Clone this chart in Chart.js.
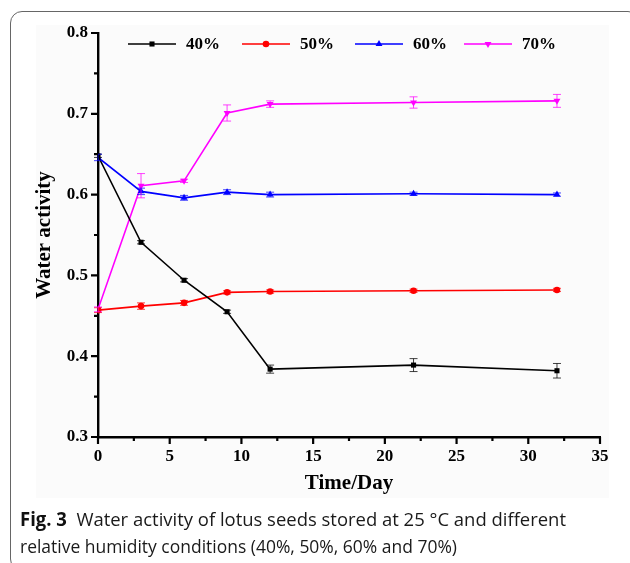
<!DOCTYPE html>
<html>
<head>
<meta charset="utf-8">
<script src="https://cdn.jsdelivr.net/npm/chart.js@4/dist/chart.umd.min.js"></script>
<style>
  html, body { margin:0; padding:0; background:#fff; width:630px; height:563px; overflow:hidden; }
  #wrap { position:relative; width:630px; height:563px; }
  #frame { position:absolute; left:10px; top:11px; width:630px; height:560px; border:1.3px solid #666; border-radius:12px; box-sizing:border-box; }
  #imgbg { position:absolute; left:36px; top:25px; width:573px; height:473px; background:#fbfbfb; }
  #c { position:absolute; left:0; top:0; }
  .cap { position:absolute; left:20px; font-family:'Open Sans','Noto Sans',sans-serif; font-size:19px; color:#1a1a1a; white-space:nowrap; transform-origin:0 0; line-height:1; }
  .cap b { font-weight:700; color:#111; }
</style>
</head>
<body>
<div id="wrap">
  <div id="frame"></div>
  <div id="imgbg"></div>
  <canvas id="c" width="630" height="563"></canvas>
  <div class="cap" id="cap1" style="top:510px"><b>Fig. 3</b>&nbsp; Water activity of lotus seeds stored at 25 °C and different</div>
  <div class="cap" id="cap2" style="top:537px">relative humidity conditions (40%, 50%, 60% and 70%)</div>
</div>
<script>
// ---- data ----
const days = [0, 3, 6, 9, 12, 22, 32];
const seriesLabels = ['40%', '50%', '60%', '70%'];
const rh40 = [0.648, 0.541, 0.494, 0.455, 0.384, 0.389, 0.382];
const rh50 = [0.457, 0.462, 0.466, 0.479, 0.480, 0.481, 0.482];
const rh60 = [0.646, 0.604, 0.596, 0.603, 0.600, 0.601, 0.600];
const rh70 = [0.458, 0.611, 0.617, 0.701, 0.712, 0.714, 0.716];
const err40 = [0.002, 0.002, 0.002, 0.002, 0.005, 0.008, 0.009];
const err50 = [0.003, 0.004, 0.003, 0.002, 0.002, 0.002, 0.002];
const err60 = [0.004, 0.004, 0.003, 0.003, 0.003, 0.002, 0.002];
const err70 = [0.003, 0.015, 0.002, 0.010, 0.004, 0.007, 0.008];
const xTicks = [0, 5, 10, 15, 20, 25, 30, 35];
const yTicks = [0.3, 0.4, 0.5, 0.6, 0.7, 0.8];

const colors = ['#000000', '#ff0000', '#0000ff', '#ff00ff'];
const shapes = ['rect', 'circle', 'triangle', 'triangle'];
const rotations = [0, 0, 0, 180];
const radii = [3.6, 3.3, 4, 4];
const values = [rh40, rh50, rh60, rh70];
const errors = [err40, err50, err60, err70];

const serif = "'Liberation Serif','Times New Roman',serif";

const datasets = values.map((vals, i) => ({
  label: seriesLabels[i],
  data: days.map((d, j) => ({ x: d, y: vals[j] })),
  borderColor: colors[i],
  backgroundColor: colors[i],
  borderWidth: 1.6,
  pointStyle: shapes[i],
  pointRotation: rotations[i],
  pointRadius: radii[i],
  pointBorderWidth: 0,
  pointHoverRadius: radii[i],
  tension: 0,
  errs: errors[i]
}));

const errorBars = {
  id: 'errorBars',
  afterDatasetsDraw(chart) {
    const ctx = chart.ctx, xs = chart.scales.x, ys = chart.scales.y;
    chart.data.datasets.forEach((ds) => {
      ctx.save();
      ctx.strokeStyle = ds.borderColor;
      ctx.globalAlpha = 0.75;
      ctx.lineWidth = 1;
      ds.data.forEach((p, j) => {
        const e = ds.errs[j];
        const x = xs.getPixelForValue(p.x);
        const y1 = ys.getPixelForValue(p.y + e);
        const y2 = ys.getPixelForValue(p.y - e);
        ctx.beginPath();
        ctx.moveTo(x, y1); ctx.lineTo(x, y2);
        ctx.moveTo(x - 4, y1); ctx.lineTo(x + 4, y1);
        ctx.moveTo(x - 4, y2); ctx.lineTo(x + 4, y2);
        ctx.stroke();
      });
      ctx.restore();
    });
  }
};

const axisTicks = {
  id: 'axisTicks',
  afterDraw(chart) {
    const ctx = chart.ctx, xs = chart.scales.x, ys = chart.scales.y;
    const a = chart.chartArea;
    ctx.save();
    ctx.strokeStyle = '#000';
    ctx.lineWidth = 2.2;
    ctx.beginPath();
    for (let v = xs.min; v <= xs.max + 1e-9; v += 2.5) {
      const x = xs.getPixelForValue(v);
      const major = Math.abs(v / 5 - Math.round(v / 5)) < 1e-6;
      ctx.moveTo(x, a.bottom); ctx.lineTo(x, a.bottom + (major ? 7 : 4));
    }
    for (let v = ys.min; v <= ys.max + 1e-9; v += 0.05) {
      const y = ys.getPixelForValue(v);
      const major = Math.abs(v * 10 - Math.round(v * 10)) < 1e-6;
      ctx.moveTo(a.left, y); ctx.lineTo(a.left - (major ? 7 : 4), y);
    }
    ctx.stroke();
    ctx.restore();
  }
};

const lineLegend = {
  id: 'lineLegend',
  afterDraw(chart) {
    const ctx = chart.ctx;
    const starts = [128, 242, 355, 464];
    const y = 44;
    chart.data.datasets.forEach((ds, i) => {
      const x0 = starts[i];
      ctx.save();
      ctx.strokeStyle = ds.borderColor;
      ctx.lineWidth = 1.6;
      ctx.beginPath(); ctx.moveTo(x0, y); ctx.lineTo(x0 + 48, y); ctx.stroke();
      ctx.fillStyle = ds.backgroundColor;
      Chart.helpers.drawPoint(ctx, { pointStyle: ds.pointStyle, rotation: ds.pointRotation, radius: ds.pointRadius, borderWidth: 0 }, x0 + 24, y);
      ctx.fillStyle = '#000';
      ctx.font = "bold 17px " + serif;
      ctx.textBaseline = 'middle';
      ctx.textAlign = 'left';
      ctx.fillText(ds.label, x0 + 58, y + 1);
      ctx.restore();
    });
  }
};

new Chart(document.getElementById('c'), {
  type: 'line',
  data: { datasets },
  options: {
    responsive: false,
    animation: false,
    events: [],
    layout: { padding: { left: 28, top: 33, right: 30, bottom: 63 } },
    plugins: { legend: { display: false }, tooltip: { enabled: false } },
    scales: {
      x: {
        type: 'linear', min: 0, max: 35,
        afterBuildTicks: (s) => { s.ticks = xTicks.map(v => ({ value: v })); },
        afterFit: (s) => { s.height = 63; },
        grid: { display: false, drawTicks: false },
        border: { display: true, color: '#000', width: 2.4 },
        ticks: { padding: 9, color: '#000', font: { family: serif, size: 17, weight: 'bold' }, maxRotation: 0, autoSkip: false },
        title: { display: true, text: 'Time/Day', color: '#000', font: { family: serif, size: 21, weight: 'bold' }, padding: { top: 4, bottom: 4 } }
      },
      y: {
        type: 'linear', min: 0.3, max: 0.8,
        afterBuildTicks: (s) => { s.ticks = yTicks.map(v => ({ value: v })); },
        afterFit: (s) => { s.width = 70; },
        grid: { display: false, drawTicks: false },
        border: { display: true, color: '#000', width: 2.4 },
        ticks: { padding: 10, color: '#000', font: { family: serif, size: 17, weight: 'bold' }, callback: (v) => Number(v).toFixed(1), autoSkip: false },
        title: { display: true, text: 'Water activity', color: '#000', font: { family: serif, size: 21, weight: 'bold' }, padding: { top: 4, bottom: 4 } }
      }
    }
  },
  plugins: [errorBars, axisTicks, lineLegend]
});

function fit(id, target) {
  const el = document.getElementById(id);
  const w = el.getBoundingClientRect().width;
  el.style.transform = 'scaleX(' + (target / w) + ')';
}
fit('cap1', 546);
fit('cap2', 437);
</script>
</body>
</html>
